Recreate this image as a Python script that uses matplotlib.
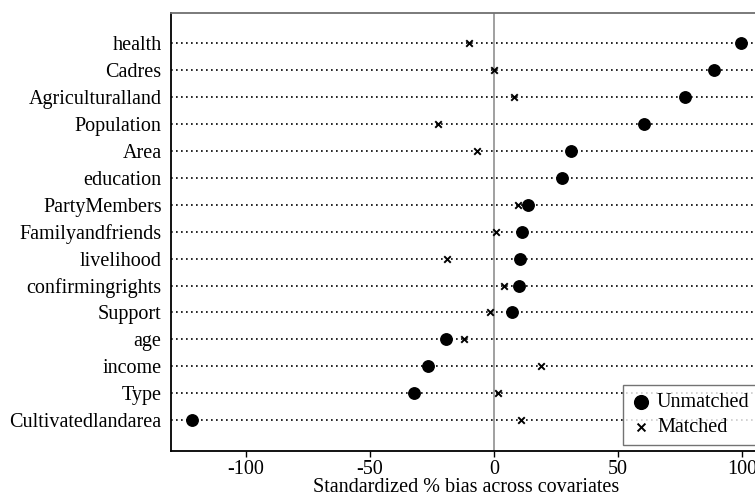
import numpy as np
import matplotlib
matplotlib.use("Agg")
import matplotlib.pyplot as plt

plt.rcParams['font.family'] = ['Liberation Serif', 'DejaVu Serif']

# covariates, top to bottom
covariates = ["health", "Cadres", "Agriculturalland", "Population", "Area",
              "education", "PartyMembers", "Familyandfriends", "livelihood",
              "confirmingrights", "Support", "age", "income", "Type",
              "Cultivatedlandarea"]
unmatched = [99.7, 88.8, 77.1, 60.5, 31.0, 27.3, 13.6, 11.2, 10.5, 10.1,
             7.3, -19.4, -26.7, -32.1, -121.6]
matched = [-10.1, -0.1, 7.9, -22.4, -6.9, 27.3, 9.8, 0.7, -19.1, 3.9,
           -1.6, -12.1, 19.0, 1.6, 10.9]
xticks = [-100, -50, 0, 50, 100]

fig = plt.figure(figsize=(7.55, 4.95), dpi=100)
ax = fig.add_axes([0.2269, 0.0883, 1.009 - 0.2269, 0.9743 - 0.0883])

n = len(covariates)
ypos = np.arange(n, 0, -1)

for y in ypos:
    ax.axhline(y, color="black", linestyle=(0, (1, 2)), linewidth=1.2, zorder=1)
ax.axvline(0, color="#a0a0a0", linewidth=1.4, zorder=1)

ax.scatter(unmatched, ypos, s=68, color="black", marker="o", zorder=3,
           label="Unmatched")
ax.scatter(matched, ypos, s=22, color="black", marker="x", linewidths=1.4,
           zorder=3, label="Matched")

ax.set_xlim(-130.1, 108)
ax.set_ylim(-0.16, 16.14)
ax.set_yticks(ypos)
ax.set_yticklabels(covariates)
ax.set_xticks(xticks)
ax.set_xticklabels([str(t) for t in xticks])
ax.tick_params(axis="y", length=0, pad=7, labelsize=14.5)
ax.tick_params(axis="x", length=4.5, width=1, direction="out", pad=2, labelsize=14.5)
ax.set_xlabel("Standardized % bias across covariates", fontsize=14.5, labelpad=-1)

ax.spines["left"].set_linewidth(1.3)
ax.spines["bottom"].set_linewidth(1.3)
ax.spines["top"].set_color("#707070")
ax.spines["top"].set_linewidth(1.3)
ax.spines["right"].set_visible(False)

leg = ax.legend(loc="lower right", bbox_to_anchor=(0.993, 0.014), fontsize=14.5,
                frameon=True, fancybox=False, handletextpad=0.3,
                borderpad=0.4, labelspacing=0.3, handlelength=1.0,
                borderaxespad=0, markerscale=1.2)
leg.get_frame().set_edgecolor("#505050")
leg.get_frame().set_linewidth(1.0)

fig.savefig("out.png", dpi=100)
